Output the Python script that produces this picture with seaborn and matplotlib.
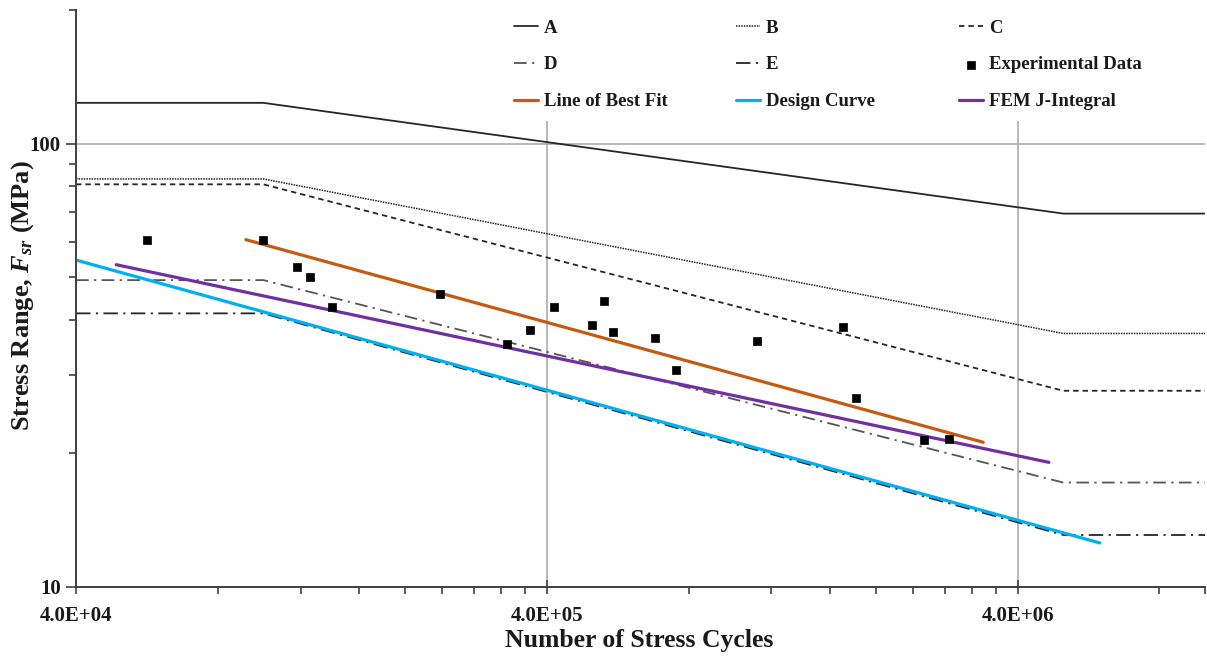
import numpy as np
import pandas as pd
import matplotlib
matplotlib.use("Agg")
import matplotlib.pyplot as plt
import seaborn as sns
from matplotlib.ticker import FixedLocator, FixedFormatter, NullFormatter

# ---------------- data ----------------
cat_x = [4.0e4, 1.0e5, 5.0e6, 1.0e7]
cat_A = [123.5, 123.5, 69.5, 69.5]
cat_B = [83.2, 83.2, 37.3, 37.3]
cat_C = [80.9, 80.9, 27.7, 27.7]
cat_D = [49.2, 49.2, 17.2, 17.2]
cat_E = [41.4, 41.4, 13.1, 13.1]

exp_cycles = [56700, 99900, 117600, 125600, 140000, 237300, 328900, 368600,
              415200, 498500, 528800, 551600, 677300, 750700, 1116000,
              1700900, 1815000, 2534000, 2863000]
exp_stress = [60.5, 60.7, 52.7, 50.0, 42.8, 45.7, 35.4, 37.9,
              42.8, 38.9, 44.1, 37.6, 36.5, 30.8, 35.9,
              38.6, 26.7, 21.4, 21.6]

fit_x = [9.18e4, 3.38e6]
fit_y = [60.7, 21.2]
design_x = [4.0e4, 5.98e6]
design_y = [54.6, 12.57]
fem_x = [4.87e4, 4.66e6]
fem_y = [53.3, 19.1]

x_major = [4.0e4, 4.0e5, 4.0e6]
x_major_labels = ["4.0E+04", "4.0E+05", "4.0E+06"]
y_major = [10, 100]
y_major_labels = ["10", "100"]

# ---------------- style ----------------
sns.set_theme(style="white")
plt.rcParams["font.family"] = ["Liberation Serif", "DejaVu Serif"]
plt.rcParams["font.weight"] = "bold"
plt.rcParams["axes.labelweight"] = "bold"
plt.rcParams["mathtext.fontset"] = "custom"
plt.rcParams["mathtext.rm"] = "Liberation Serif:bold"
plt.rcParams["mathtext.it"] = "Liberation Serif:italic:bold"
plt.rcParams["mathtext.bf"] = "Liberation Serif:bold"

fig = plt.figure(figsize=(12.07, 6.63), dpi=100)
ax = fig.add_axes([76 / 1207, 1 - 587 / 663, (1205 - 76) / 1207, (587 - 10) / 663])

ax.set_xscale("log")
ax.set_yscale("log")

sns.lineplot(x=cat_x, y=cat_A, ax=ax, color="#262626", lw=1.3, label="A")
sns.lineplot(x=cat_x, y=cat_B, ax=ax, color="#262626", lw=1.1,
             linestyle=(0, (1, 0.7)), label="B")
sns.lineplot(x=cat_x, y=cat_C, ax=ax, color="#262626", lw=1.3,
             linestyle=(0, (3, 2.2)), label="C")
sns.lineplot(x=cat_x, y=cat_D, ax=ax, color="#555555", lw=1.3,
             linestyle=(0, (7, 3, 1.2, 3)), label="D")
sns.lineplot(x=cat_x, y=cat_E, ax=ax, color="#262626", lw=1.3,
             linestyle=(0, (8, 3, 1.2, 3)), label="E")
sns.scatterplot(x=exp_cycles, y=exp_stress, ax=ax, marker="s", s=26,
                color="black", edgecolor="black", linewidth=0.5,
                label="Experimental Data", zorder=5)
sns.lineplot(x=fit_x, y=fit_y, ax=ax, color="#C55A11", lw=2.3,
             label="Line of Best Fit")
sns.lineplot(x=design_x, y=design_y, ax=ax, color="#00B0F0", lw=2.3,
             label="Design Curve")
sns.lineplot(x=fem_x, y=fem_y, ax=ax, color="#7030A0", lw=2.3,
             label="FEM J-Integral")

ax.set_xlim(4.0e4, 1.0e7)
ax.set_ylim(10, 200)

# ticks
ax.xaxis.set_major_locator(FixedLocator(x_major))
ax.xaxis.set_major_formatter(FixedFormatter(x_major_labels))
x_minor = [k * m for m in x_major for k in range(2, 10) if k * m <= 1.0e7] + [1.0e7]
ax.xaxis.set_minor_locator(FixedLocator(x_minor))
ax.xaxis.set_minor_formatter(NullFormatter())
ax.yaxis.set_major_locator(FixedLocator(y_major))
ax.yaxis.set_major_formatter(FixedFormatter(y_major_labels))
y_minor = [k * m for m in [10, 100] for k in range(2, 10) if k * m <= 200]
ax.yaxis.set_minor_locator(FixedLocator(y_minor))
ax.yaxis.set_minor_formatter(NullFormatter())

ax.tick_params(axis="x", which="major", direction="inout", length=10, width=1.2,
               color="#404040", labelsize=15, pad=9, bottom=True)
ax.tick_params(axis="x", which="minor", direction="out", length=5, width=1.2,
               color="#404040", bottom=True)
ax.tick_params(axis="y", which="major", direction="out", length=7, width=1.2,
               color="#404040", labelsize=15, pad=4, left=True)
ax.tick_params(axis="y", which="minor", direction="out", length=5, width=1.2,
               color="#404040", left=True)
for lbl in ax.get_xticklabels() + ax.get_yticklabels():
    lbl.set_fontweight("bold")
    lbl.set_color("#1a1a1a")

ax.grid(which="major", color="#A6A6A6", lw=1.1)
ax.set_axisbelow(True)

for side in ["top", "right"]:
    ax.spines[side].set_visible(False)
for side in ["left", "bottom"]:
    ax.spines[side].set_color("#404040")
    ax.spines[side].set_linewidth(1.4)

ax.set_xlabel("Number of Stress Cycles", fontsize=18.5, fontweight="bold",
              color="#1a1a1a")
ax.xaxis.set_label_coords((639 - 76) / 1129, -(641 - 587) / 577)
ax.set_ylabel(r"Stress Range, $F_{sr}$ (MPa)", fontsize=19, fontweight="bold",
              color="#1a1a1a")
ax.yaxis.set_label_coords(-(76 - 23) / 1129, (587 - 296) / 577)
ax.xaxis.label.set_va("center")
ax.yaxis.label.set_va("center")

# legends: three columns
handles, labels = ax.get_legend_handles_labels()
hmap = dict(zip(labels, handles))
if ax.get_legend() is not None:
    ax.get_legend().remove()

columns = [
    (["A", "D", "Line of Best Fit"], 503),
    (["B", "E", "Design Curve"], 725),
    (["C", "Experimental Data", "FEM J-Integral"], 948),
]
for names, px in columns:
    leg = fig.legend([hmap[n] for n in names], names, loc="upper left",
                     bbox_to_anchor=(px / 1207, 1 - 9 / 663),
                     bbox_transform=fig.transFigure, borderaxespad=0,
                     frameon=True, facecolor="white", edgecolor="none",
                     framealpha=1, fancybox=False, borderpad=0.57,
                     handlelength=1.3, handletextpad=0.32, labelspacing=1.04,
                     prop={"family": "Liberation Serif", "weight": "bold", "size": 13.5})
    for t in leg.get_texts():
        t.set_color("#1a1a1a")

fig.savefig("out.png", dpi=100)
